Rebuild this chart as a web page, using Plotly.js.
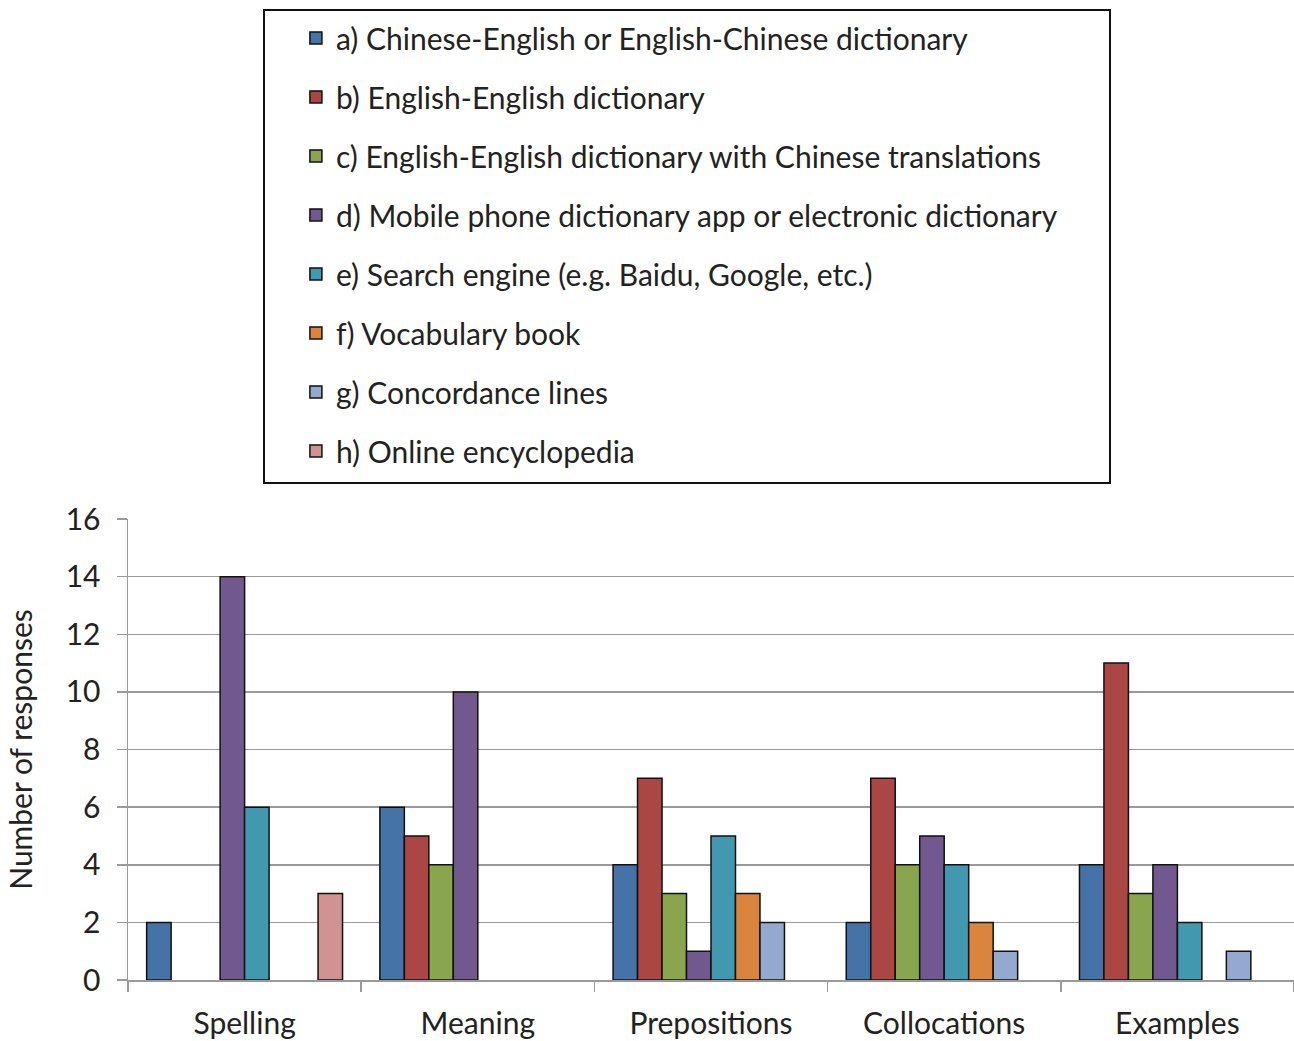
<!DOCTYPE html>
<html><head><meta charset="utf-8">
<script src="https://cdn.plot.ly/plotly-3.0.1.min.js"></script>
<style>html,body{margin:0;padding:0;background:#fff;}#chart{width:1294px;height:1041px;}</style>
</head><body><div id="chart"></div>
<script>
const categories = ["Spelling", "Meaning", "Prepositions", "Collocations", "Examples"];
const seriesNames = [
  "a) Chinese-English or English-Chinese dictionary",
  "b) English-English dictionary",
  "c) English-English dictionary with Chinese translations",
  "d) Mobile phone dictionary app or electronic dictionary",
  "e) Search engine (e.g. Baidu, Google, etc.)",
  "f) Vocabulary book",
  "g) Concordance lines",
  "h) Online encyclopedia"
];
const seriesA = [2, 6, 4, 2, 4];
const seriesB = [0, 5, 7, 7, 11];
const seriesC = [0, 4, 3, 4, 3];
const seriesD = [14, 10, 1, 5, 4];
const seriesE = [6, 0, 5, 4, 2];
const seriesF = [0, 0, 3, 2, 0];
const seriesG = [0, 0, 2, 1, 1];
const seriesH = [3, 0, 0, 0, 0];
const seriesColors = ["#4572A7", "#AA4643", "#89A54E", "#71588F", "#4198AF", "#DB843D", "#93A9CF", "#D19392"];
const yTicks = [0, 2, 4, 6, 8, 10, 12, 14, 16];

const allSeries = [seriesA, seriesB, seriesC, seriesD, seriesE, seriesF, seriesG, seriesH];
const FONT = "Lato, 'Open Sans', sans-serif";
const traces = allSeries.map((vals, i) => ({
  type: "bar",
  name: seriesNames[i],
  x: categories,
  y: vals.map(v => (v === 0 ? null : v)),
  legendgroup: "g" + i,
  marker: {color: seriesColors[i], line: {color: "#111", width: 1.5}},
  hoverinfo: "x+y+name"
}));

const layout = {
  width: 1294, height: 1041,
  margin: {l: 128, r: 0, t: 519, b: 61, pad: 0},
  paper_bgcolor: "#fff", plot_bgcolor: "#fff",
  font: {family: FONT, size: 30, color: "#222"},
  barmode: "group", bargap: 0.16, bargroupgap: 0,
  xaxis: {
    type: "category", range: [-0.5, 4.5],
    showline: true, linecolor: "#9a9a9a", linewidth: 1.5,
    ticks: "outside", tickson: "boundaries", ticklen: 10, tickcolor: "#9a9a9a", tickwidth: 1.5,
    ticklabelstandoff: 16,
    showgrid: false, tickfont: {family: FONT, size: 30, color: "#222"}, automargin: false
  },
  yaxis: {
    range: [0, 16], tickvals: yTicks, ticktext: yTicks.map(String),
    showline: true, linecolor: "#9a9a9a", linewidth: 1.5,
    ticks: "outside", ticklen: 10, tickcolor: "#9a9a9a", tickwidth: 1.5,
    ticklabelstandoff: 10,
    showgrid: true, gridcolor: "#9a9a9a", gridwidth: 1.5, zeroline: false,
    tickfont: {family: FONT, size: 30, color: "#222"},
    title: {text: "Number of responses", font: {family: FONT, size: 30, color: "#222"}, standoff: 24},
    automargin: false
  },
  showlegend: true,
  legend: {
    x: 0.144, xanchor: "left", y: 2.10, yanchor: "top",
    orientation: "v", traceorder: "grouped", tracegroupgap: 17,
    bgcolor: "rgba(0,0,0,0)", borderwidth: 0,
    font: {family: FONT, size: 30, color: "#222"}
  },
  shapes: [{
    type: "rect", xref: "paper", yref: "paper",
    x0: (264 - 128) / 1166, x1: (1110 - 128) / 1166,
    y0: (980 - 483) / 461, y1: (980 - 10) / 461,
    line: {color: "#111", width: 2}, fillcolor: "rgba(0,0,0,0)", layer: "above"
  }]
};

Plotly.newPlot("chart", traces, layout, {displayModeBar: false, staticPlot: true});
</script></body></html>
